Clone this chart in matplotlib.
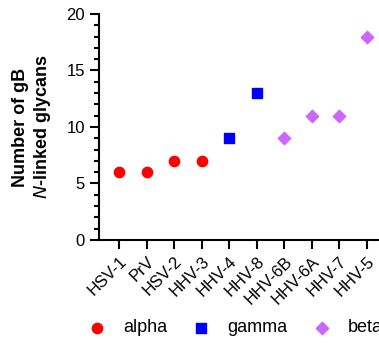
import matplotlib
matplotlib.use("Agg")
import matplotlib.pyplot as plt
from matplotlib.ticker import MultipleLocator

plt.rcParams['font.family'] = ['Liberation Sans', 'DejaVu Sans']

# virus names in plotting order
viruses = ["HSV-1", "PrV", "HSV-2", "HHV-3", "HHV-4", "HHV-8",
           "HHV-6B", "HHV-6A", "HHV-7", "HHV-5"]

# glycan counts per subfamily
alpha_names = ["HSV-1", "PrV", "HSV-2", "HHV-3"]
alpha_vals = [6, 6, 7, 7]
gamma_names = ["HHV-4", "HHV-8"]
gamma_vals = [9, 13]
beta_names = ["HHV-6B", "HHV-6A", "HHV-7", "HHV-5"]
beta_vals = [9, 11, 11, 18]

fig = plt.figure(figsize=(3.79, 3.43), dpi=100)
ax = fig.add_axes([0.2612, 0.3003, 0.75, 0.659])

pos = {name: i for i, name in enumerate(viruses)}

ax.scatter([pos[n] for n in alpha_names], alpha_vals, marker='o', s=55,
           color='#FF0000', label='alpha', zorder=3, clip_on=False)
ax.scatter([pos[n] for n in gamma_names], gamma_vals, marker='s', s=45,
           color='#0000FF', label='gamma', zorder=3, clip_on=False)
ax.scatter([pos[n] for n in beta_names], beta_vals, marker='D', s=40,
           color='#CC66FF', label='beta', zorder=3, clip_on=False)

ax.set_xlim(-0.73, 9.6)
ax.set_ylim(0, 20)
ax.set_xticks(range(len(viruses)))
ax.set_xticklabels(viruses, rotation=45, ha='right', rotation_mode='anchor',
                   fontsize=12)
ax.yaxis.set_major_locator(MultipleLocator(5))
ax.yaxis.set_minor_locator(MultipleLocator(1))
ax.tick_params(axis='y', labelsize=12)

for side in ['top', 'right']:
    ax.spines[side].set_visible(False)
for side in ['left', 'bottom']:
    ax.spines[side].set_linewidth(1.5)
ax.tick_params(which='major', direction='out', length=6.5, width=1.5)
ax.tick_params(which='minor', direction='out', length=3.5, width=1.5)

ax.set_ylabel("Number of gB\n$\\bf{\\it{N}}$-linked glycans", fontsize=13,
              fontweight='bold', labelpad=10)

fig.legend(loc='center left', bbox_to_anchor=(0.213, 0.044), ncol=3,
           frameon=False, fontsize=13, handlelength=1.0, handletextpad=0.94,
           columnspacing=1.4, borderaxespad=0)

fig.savefig("out.png", dpi=100)
